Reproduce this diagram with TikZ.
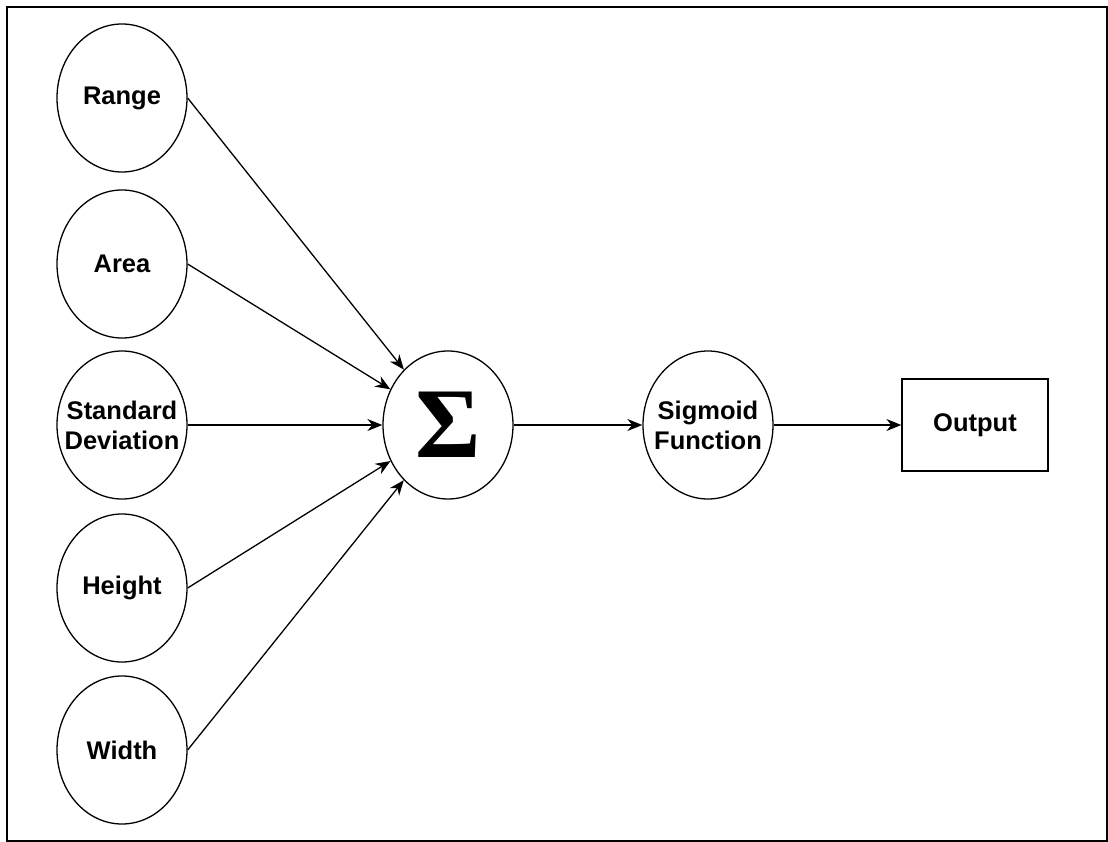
\documentclass[tikz,border=0pt]{standalone}
\usepackage{fontspec}
\setmainfont{Liberation Sans}
\newfontfamily\sigmafont{Liberation Serif}
\usepackage{tikz}
\usetikzlibrary{shapes.geometric,arrows.meta}

\begin{document}
\begin{tikzpicture}
[x=1pt,y=-1pt,
every node/.style={font=\fontsize{25.5}{30}\selectfont\bfseries,align=center},
neuron/.style={ellipse,draw,line width=1.3pt,minimum width=130pt,minimum height=148pt,inner sep=-20pt},
outbox/.style={rectangle,draw,line width=1.3pt,minimum width=146pt,minimum height=92pt},
link/.style={line width=1.3pt,-{Stealth[length=15pt,width=12pt]}}]
\useasboundingbox (0,0) rectangle (1108,842);
\draw[line width=2.2pt] (7,7) rectangle (1107,841);
% inputs
\node[neuron] (range) at (122,98) {Range};
\node[neuron] (area) at (122,264) {Area};
\node[neuron] (stddev) at (122,425) {Standard\\Deviation};
\node[neuron] (height) at (122,588) {Height};
\node[neuron] (width) at (122,750) {Width};
% sum and activation
\node[neuron] (sum) at (448,425) {\fontsize{100}{100}\selectfont\sigmafont\bfseries Σ};
\node[neuron] (sigmoid) at (708,425) {Sigmoid\\Function};
\node[outbox] (output) at (975,425) {Output};
\foreach \n in {range,area,stddev,height,width}
\draw[link] (\n.east) -- (sum);
\draw[link] (sum) -- (sigmoid);
\draw[link] (sigmoid) -- (output);
\end{tikzpicture}
\end{document}
